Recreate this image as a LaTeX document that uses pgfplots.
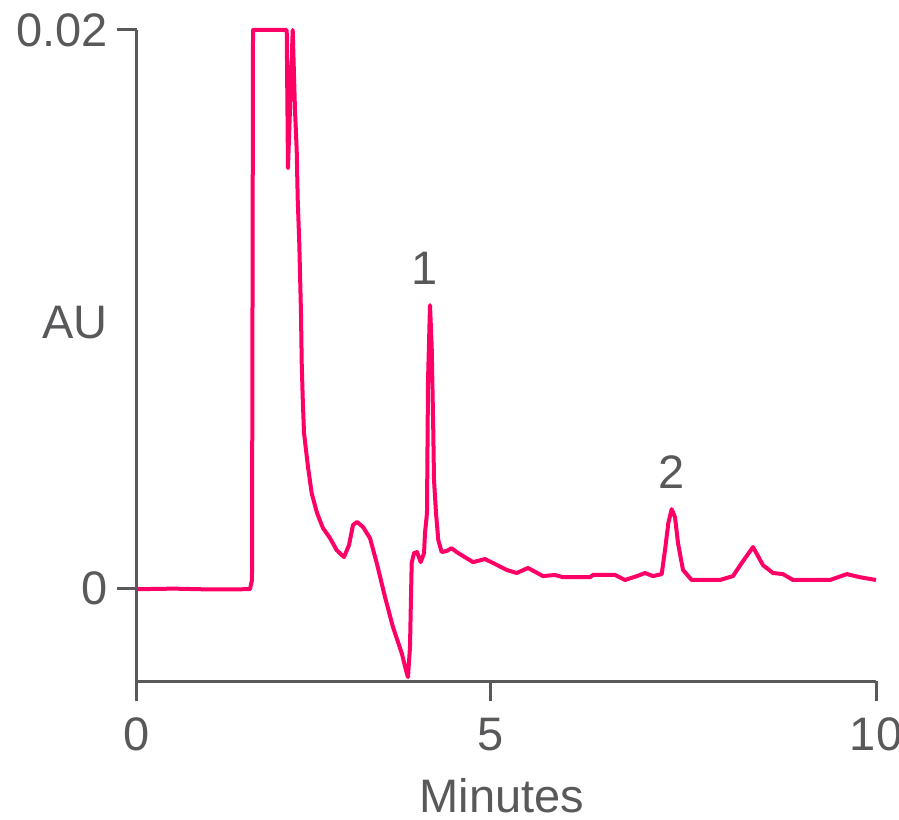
\documentclass[border=0pt]{standalone}
\usepackage{fontspec}
\setmainfont{Liberation Sans}
\usepackage{pgfplots}
\pgfplotsset{compat=1.18}
\definecolor{trace}{RGB}{255,0,102}
\definecolor{axgray}{RGB}{89,89,91}
\begin{document}
\begin{tikzpicture}
\begin{axis}[
  scale only axis,
  width=369.5pt, height=325.5pt,
  xmin=0, xmax=10, ymin=-0.00333, ymax=0.02,
  axis lines*=left,
  axis line style={axgray, line width=1.5pt},
  clip=false,
  xtick={0,4.784,10}, xticklabels={0,5,10},
  ytick={0,0.02}, yticklabels={0,0.02},
  scaled y ticks=false,
  tick align=outside,
  major tick length=10pt,
  tick style={axgray, line width=1.5pt},
  every tick label/.append style={font=\fontsize{23.5}{27}\selectfont, text=axgray},
  xticklabel style={yshift=-5pt},
  yticklabel style={xshift=-1pt},
  xlabel={Minutes},
  ylabel={AU},
  label style={font=\fontsize{23.5}{27}\selectfont, text=axgray},
  xlabel style={at={(axis description cs:0.494,-0.176)}, anchor=center},
  ylabel style={at={(axis description cs:-0.084,0.55)}, anchor=center, rotate=-90},
]
\addplot[trace, line width=2pt, line join=round] coordinates {
(0,-0.00004) (0.5,-0.00002) (1.0,-0.00005) (1.529,-0.00004)
(1.556,0.00029) (1.570,0.0200) (2.026,0.0200) (2.043,0.01505)
(2.107,0.0200) (2.138,0.01713) (2.161,0.01570) (2.175,0.01391)
(2.196,0.01236) (2.219,0.00986) (2.229,0.00806) (2.242,0.00685)
(2.260,0.00556) (2.314,0.00434) (2.364,0.00340) (2.436,0.00269)
(2.517,0.00215) (2.612,0.00179) (2.702,0.00136) (2.801,0.00111)
(2.869,0.00154) (2.923,0.00226) (2.977,0.00237) (3.058,0.00219)
(3.153,0.00179) (3.244,0.00090) (3.356,-0.00032) (3.464,-0.00140)
(3.582,-0.00233) (3.650,-0.00305) (3.667,-0.00319) (3.694,-0.00211)
(3.717,0.00090) (3.748,0.00125) (3.789,0.00129) (3.839,0.00093)
(3.884,0.00125) (3.897,0.00197) (3.924,0.00269) (3.938,0.00745)
(3.965,0.01014) (3.988,0.00864) (4.009,0.00566) (4.019,0.00387)
(4.046,0.00269) (4.077,0.00172) (4.123,0.00129) (4.191,0.00133)
(4.258,0.00143) (4.326,0.00129) (4.411,0.00115) (4.547,0.00093)
(4.709,0.00104) (4.817,0.00090) (5.003,0.00065) (5.138,0.00054)
(5.291,0.00072) (5.494,0.00043) (5.656,0.00047) (5.765,0.00039)
(6.130,0.00039) (6.171,0.00047) (6.468,0.00047) (6.603,0.00029)
(6.766,0.00043) (6.874,0.00054) (6.982,0.00043) (7.100,0.00050)
(7.145,0.00136) (7.190,0.00233) (7.235,0.00283) (7.280,0.00254)
(7.321,0.00161) (7.388,0.00065) (7.506,0.00029) (7.889,0.00029)
(8.065,0.00043) (8.183,0.00090) (8.336,0.00147) (8.471,0.00082)
(8.607,0.00054) (8.742,0.00050) (8.877,0.00029) (9.378,0.00029)
(9.604,0.00050) (9.783,0.00039) (10.0,0.00029)
};
\node[font=\fontsize{23.5}{27}\selectfont, text=axgray] at (axis cs:3.897,0.01147) {1};
\node[font=\fontsize{23.5}{27}\selectfont, text=axgray] at (axis cs:7.24,0.00416) {2};
\end{axis}
\pgfresetboundingbox
\path (current axis.south west) ++(-68.5pt,-69pt) rectangle ++(449.5pt,409.5pt);
\end{tikzpicture}
\end{document}
